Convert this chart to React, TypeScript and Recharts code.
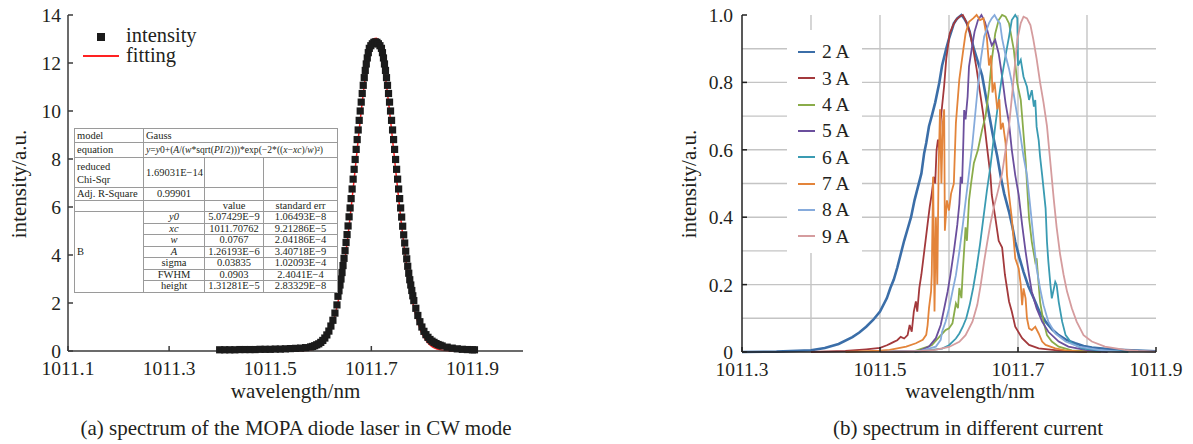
import React from 'react';
import { ComposedChart, Line, Scatter, XAxis, YAxis, ZAxis, ReferenceLine } from 'recharts';

const FONT = '"Liberation Serif", "Times New Roman", Times, serif';
const TEXT = '#231f20';
const AXIS = '#3a3a3a';

// ---------- Panel (a) ----------
const aXTicks = [1011.1, 1011.3, 1011.5, 1011.7, 1011.9];
const aYTicks = [0, 2, 4, 6, 8, 10, 12, 14];

const intensity: [number, number][] = [
  [1011.400, 0.05], [1011.410, 0.05], [1011.420, 0.05], [1011.430, 0.05], [1011.440, 0.06], [1011.450, 0.06],
  [1011.460, 0.06], [1011.470, 0.06], [1011.480, 0.07], [1011.490, 0.07], [1011.500, 0.07], [1011.510, 0.08],
  [1011.520, 0.08], [1011.530, 0.09], [1011.540, 0.10], [1011.550, 0.11], [1011.560, 0.12], [1011.570, 0.14],
  [1011.580, 0.17], [1011.584, 0.19], [1011.588, 0.22], [1011.592, 0.26], [1011.596, 0.30], [1011.600, 0.36],
  [1011.604, 0.44], [1011.608, 0.54], [1011.612, 0.67], [1011.616, 0.83], [1011.620, 1.04], [1011.624, 1.28],
  [1011.628, 1.58], [1011.632, 1.92], [1011.634, 2.28], [1011.636, 2.51], [1011.638, 2.75], [1011.640, 3.00],
  [1011.642, 3.27], [1011.644, 3.56], [1011.646, 3.86], [1011.648, 4.18], [1011.650, 4.52], [1011.652, 4.85],
  [1011.654, 5.21], [1011.656, 5.59], [1011.658, 5.96], [1011.660, 6.35], [1011.662, 6.75], [1011.664, 7.16],
  [1011.666, 7.57], [1011.668, 7.98], [1011.670, 8.40], [1011.672, 8.81], [1011.674, 9.21], [1011.676, 9.61],
  [1011.678, 10.00], [1011.680, 10.37], [1011.682, 10.73], [1011.684, 11.07], [1011.686, 11.39], [1011.688, 11.69],
  [1011.690, 11.96], [1011.692, 12.21], [1011.694, 12.43], [1011.696, 12.61], [1011.699, 12.72], [1011.702, 12.80],
  [1011.705, 12.86], [1011.708, 12.88], [1011.711, 12.86], [1011.714, 12.80], [1011.717, 12.72], [1011.720, 12.61],
  [1011.722, 12.43], [1011.724, 12.21], [1011.726, 11.96], [1011.728, 11.69], [1011.730, 11.39], [1011.732, 11.07],
  [1011.734, 10.73], [1011.736, 10.37], [1011.738, 10.00], [1011.740, 9.61], [1011.742, 9.21], [1011.744, 8.81],
  [1011.746, 8.40], [1011.748, 7.98], [1011.750, 7.57], [1011.752, 7.16], [1011.754, 6.75], [1011.756, 6.35],
  [1011.758, 5.96], [1011.760, 5.58], [1011.762, 5.20], [1011.764, 4.84], [1011.766, 4.50], [1011.768, 4.16],
  [1011.770, 3.84], [1011.772, 3.53], [1011.774, 3.24], [1011.776, 2.97], [1011.778, 2.75], [1011.780, 2.52],
  [1011.782, 2.30], [1011.784, 2.10], [1011.788, 1.78], [1011.792, 1.48], [1011.796, 1.22], [1011.800, 1.00],
  [1011.804, 0.82], [1011.808, 0.68], [1011.812, 0.57], [1011.816, 0.48], [1011.820, 0.41], [1011.824, 0.36],
  [1011.828, 0.31], [1011.832, 0.27], [1011.836, 0.24], [1011.840, 0.21], [1011.850, 0.16], [1011.860, 0.12],
  [1011.870, 0.09], [1011.880, 0.07], [1011.890, 0.06], [1011.900, 0.05], [1011.904, 0.05],
];

const fitting: [number, number][] = [
  [1011.400, 0], [1011.500, 0], [1011.550, 0.002], [1011.570, 0.02], [1011.580, 0.05], [1011.590, 0.11],
  [1011.600, 0.25], [1011.610, 0.50], [1011.620, 0.94], [1011.625, 1.25], [1011.630, 1.65], [1011.635, 2.13],
  [1011.640, 2.71], [1011.645, 3.39], [1011.650, 4.16], [1011.655, 5.02], [1011.660, 5.96], [1011.665, 6.96],
  [1011.670, 7.98], [1011.675, 9.01], [1011.680, 10.00], [1011.685, 10.90], [1011.690, 11.69], [1011.695, 12.32],
  [1011.700, 12.77], [1011.705, 13.01], [1011.710, 13.03], [1011.715, 12.83], [1011.720, 12.43], [1011.725, 11.83],
  [1011.730, 11.07], [1011.735, 10.19], [1011.740, 9.21], [1011.745, 8.19], [1011.750, 7.16], [1011.755, 6.16],
  [1011.760, 5.20], [1011.765, 4.32], [1011.770, 3.53], [1011.775, 2.84], [1011.780, 2.24], [1011.785, 1.74],
  [1011.790, 1.33], [1011.795, 1.00], [1011.800, 0.73], [1011.810, 0.38], [1011.820, 0.18], [1011.830, 0.08],
  [1011.840, 0.035], [1011.860, 0.005], [1011.900, 0],
];

// ---------- Panel (b) ----------
const bXTicks = [1011.3, 1011.5, 1011.7, 1011.9];
const bYTicks = [0, 0.2, 0.4, 0.6, 0.8, 1.0];
const bGridX = [1011.4, 1011.5, 1011.6, 1011.7, 1011.8];
const bGridY = [0.1, 0.2, 0.3, 0.4, 0.5, 0.6, 0.7, 0.8, 0.9];

const currents = ['2 A', '3 A', '4 A', '5 A', '6 A', '7 A', '8 A', '9 A'];
const currentColors = ['#3b6ea8', '#a3393c', '#8aac4a', '#6b4f9d', '#3a9bb2', '#e3843a', '#86abdc', '#d59c9e'];
const currentWidths = [2.6, 1.8, 1.8, 1.8, 1.8, 1.8, 1.8, 1.8];

const spec2A: [number, number][] = [
  [1011.30, 0], [1011.35, 0.001], [1011.40, 0.005], [1011.42, 0.012], [1011.44, 0.024], [1011.46, 0.044],
  [1011.47, 0.058], [1011.48, 0.075], [1011.49, 0.095], [1011.50, 0.12], [1011.51, 0.16], [1011.515, 0.19],
  [1011.52, 0.215], [1011.525, 0.25], [1011.53, 0.29], [1011.535, 0.33], [1011.54, 0.365], [1011.545, 0.40],
  [1011.55, 0.45], [1011.555, 0.49], [1011.56, 0.53], [1011.564, 0.59], [1011.567, 0.62], [1011.571, 0.67],
  [1011.575, 0.70], [1011.58, 0.74], [1011.586, 0.80], [1011.59, 0.85], [1011.596, 0.90], [1011.60, 0.93],
  [1011.604, 0.955], [1011.607, 0.975], [1011.612, 0.99], [1011.618, 1.0], [1011.622, 0.99], [1011.626, 0.975],
  [1011.630, 0.95], [1011.636, 0.90], [1011.642, 0.86], [1011.648, 0.82], [1011.655, 0.74], [1011.663, 0.65],
  [1011.670, 0.58], [1011.675, 0.52], [1011.680, 0.47], [1011.687, 0.416], [1011.692, 0.37], [1011.696, 0.327],
  [1011.702, 0.28], [1011.708, 0.238], [1011.715, 0.195], [1011.723, 0.159], [1011.731, 0.12], [1011.740, 0.090],
  [1011.75, 0.066], [1011.759, 0.050], [1011.77, 0.036], [1011.783, 0.026], [1011.795, 0.018], [1011.807, 0.013],
  [1011.83, 0.009], [1011.855, 0.006], [1011.90, 0.002],
];
const spec3A: [number, number][] = [
  [1011.40, 0], [1011.45, 0.003], [1011.48, 0.008], [1011.50, 0.012], [1011.51, 0.02], [1011.515, 0.025],
  [1011.52, 0.03], [1011.525, 0.035], [1011.53, 0.045], [1011.535, 0.04], [1011.54, 0.05], [1011.543, 0.08],
  [1011.546, 0.06], [1011.549, 0.12], [1011.552, 0.15], [1011.554, 0.12], [1011.557, 0.19], [1011.56, 0.23],
  [1011.563, 0.28], [1011.566, 0.33], [1011.569, 0.38], [1011.572, 0.43], [1011.575, 0.47], [1011.578, 0.52],
  [1011.580, 0.50], [1011.582, 0.60], [1011.584, 0.63], [1011.586, 0.60], [1011.588, 0.69], [1011.593, 0.79],
  [1011.596, 0.87], [1011.601, 0.945], [1011.606, 0.97], [1011.610, 0.985], [1011.615, 0.995], [1011.62, 1.0],
  [1011.625, 0.98], [1011.63, 0.95], [1011.635, 0.90], [1011.64, 0.84], [1011.645, 0.77], [1011.65, 0.70],
  [1011.655, 0.61], [1011.66, 0.525], [1011.662, 0.466], [1011.667, 0.40], [1011.672, 0.33], [1011.677, 0.31],
  [1011.681, 0.23], [1011.687, 0.15], [1011.691, 0.12], [1011.696, 0.075], [1011.706, 0.041], [1011.716, 0.021],
  [1011.730, 0.011], [1011.76, 0.004], [1011.80, 0],
];
const spec4A: [number, number][] = [
  [1011.50, 0], [1011.55, 0.003], [1011.575, 0.02], [1011.586, 0.045], [1011.595, 0.065], [1011.600, 0.07],
  [1011.605, 0.085], [1011.610, 0.144], [1011.613, 0.13], [1011.615, 0.19], [1011.618, 0.16], [1011.620, 0.24],
  [1011.624, 0.37], [1011.626, 0.33], [1011.629, 0.45], [1011.632, 0.50], [1011.636, 0.56], [1011.642, 0.60],
  [1011.648, 0.66], [1011.653, 0.70], [1011.658, 0.78], [1011.662, 0.866], [1011.667, 0.945], [1011.672, 0.985],
  [1011.677, 1.0], [1011.682, 0.995], [1011.687, 0.975], [1011.694, 0.896], [1011.699, 0.797], [1011.704, 0.748],
  [1011.706, 0.698], [1011.711, 0.57], [1011.716, 0.397], [1011.720, 0.327], [1011.725, 0.268], [1011.727, 0.278],
  [1011.730, 0.199], [1011.732, 0.149], [1011.737, 0.090], [1011.742, 0.050], [1011.749, 0.031], [1011.759, 0.016],
  [1011.778, 0.005], [1011.82, 0],
];
const spec5A: [number, number][] = [
  [1011.50, 0], [1011.557, 0.003], [1011.571, 0.016], [1011.581, 0.041], [1011.588, 0.080], [1011.593, 0.129],
  [1011.598, 0.179], [1011.602, 0.228], [1011.607, 0.298], [1011.612, 0.377], [1011.615, 0.44], [1011.617, 0.52],
  [1011.619, 0.50], [1011.621, 0.64], [1011.622, 0.718], [1011.624, 0.69], [1011.627, 0.758], [1011.629, 0.847],
  [1011.633, 0.90], [1011.637, 0.95], [1011.642, 0.985], [1011.647, 1.0], [1011.652, 0.98], [1011.658, 0.936],
  [1011.662, 0.91], [1011.667, 0.926], [1011.672, 0.886], [1011.677, 0.817], [1011.682, 0.738], [1011.687, 0.679],
  [1011.691, 0.600], [1011.696, 0.525], [1011.701, 0.466], [1011.706, 0.377], [1011.711, 0.298], [1011.716, 0.228],
  [1011.720, 0.179], [1011.727, 0.129], [1011.735, 0.090], [1011.744, 0.060], [1011.759, 0.031], [1011.773, 0.016],
  [1011.797, 0.006], [1011.83, 0],
];
const spec6A: [number, number][] = [
  [1011.55, 0], [1011.59, 0.01], [1011.60, 0.02], [1011.61, 0.04], [1011.615, 0.055], [1011.62, 0.075],
  [1011.625, 0.10], [1011.63, 0.14], [1011.635, 0.19], [1011.64, 0.25], [1011.645, 0.32], [1011.65, 0.40],
  [1011.655, 0.48], [1011.66, 0.55], [1011.667, 0.67], [1011.672, 0.75], [1011.677, 0.82], [1011.682, 0.88],
  [1011.687, 0.936], [1011.691, 0.985], [1011.696, 1.0], [1011.699, 0.99], [1011.700, 0.85], [1011.704, 0.867],
  [1011.708, 0.817], [1011.713, 0.787], [1011.716, 0.748], [1011.720, 0.777], [1011.723, 0.728], [1011.725, 0.748],
  [1011.727, 0.668], [1011.730, 0.628], [1011.732, 0.58], [1011.735, 0.525], [1011.740, 0.426], [1011.742, 0.327],
  [1011.744, 0.268], [1011.747, 0.199], [1011.749, 0.159], [1011.754, 0.208], [1011.756, 0.199], [1011.759, 0.149],
  [1011.764, 0.090], [1011.769, 0.050], [1011.778, 0.026], [1011.793, 0.011], [1011.817, 0.005], [1011.86, 0],
];
const spec7A: [number, number][] = [
  [1011.45, 0], [1011.50, 0.004], [1011.514, 0.006], [1011.538, 0.016], [1011.552, 0.026], [1011.562, 0.036],
  [1011.567, 0.051], [1011.569, 0.08], [1011.571, 0.13], [1011.574, 0.18], [1011.575, 0.23], [1011.577, 0.52],
  [1011.579, 0.12], [1011.581, 0.40], [1011.583, 0.20], [1011.585, 0.55], [1011.587, 0.72], [1011.589, 0.50],
  [1011.591, 0.68], [1011.593, 0.72], [1011.594, 0.36], [1011.597, 0.45], [1011.600, 0.42], [1011.603, 0.47],
  [1011.607, 0.50], [1011.610, 0.68], [1011.615, 0.81], [1011.620, 0.886], [1011.624, 0.945], [1011.629, 0.98],
  [1011.635, 0.99], [1011.64, 1.0], [1011.645, 0.985], [1011.65, 0.99], [1011.655, 0.93], [1011.658, 0.85],
  [1011.661, 0.88], [1011.663, 0.77], [1011.666, 0.80], [1011.670, 0.72], [1011.673, 0.75], [1011.675, 0.66],
  [1011.678, 0.68], [1011.682, 0.62], [1011.684, 0.525], [1011.687, 0.466], [1011.691, 0.397], [1011.694, 0.327],
  [1011.696, 0.278], [1011.701, 0.248], [1011.704, 0.199], [1011.706, 0.139], [1011.708, 0.189], [1011.711, 0.159],
  [1011.713, 0.10], [1011.716, 0.07], [1011.720, 0.065], [1011.725, 0.075], [1011.730, 0.055], [1011.735, 0.031],
  [1011.740, 0.021], [1011.754, 0.011], [1011.769, 0.005], [1011.80, 0],
];
const spec8A: [number, number][] = [
  [1011.50, 0], [1011.56, 0.004], [1011.581, 0.016], [1011.588, 0.036], [1011.590, 0.060], [1011.595, 0.090],
  [1011.600, 0.129], [1011.605, 0.179], [1011.610, 0.228], [1011.615, 0.298], [1011.620, 0.377], [1011.624, 0.446],
  [1011.627, 0.496], [1011.634, 0.62], [1011.641, 0.77], [1011.646, 0.866], [1011.651, 0.936], [1011.658, 0.976],
  [1011.662, 0.99], [1011.666, 1.0], [1011.670, 0.985], [1011.674, 0.975], [1011.677, 0.93], [1011.682, 0.88],
  [1011.687, 0.84], [1011.691, 0.80], [1011.695, 0.75], [1011.699, 0.70], [1011.703, 0.65], [1011.708, 0.58],
  [1011.713, 0.525], [1011.718, 0.426], [1011.723, 0.327], [1011.727, 0.248], [1011.732, 0.189], [1011.737, 0.139],
  [1011.744, 0.090], [1011.754, 0.055], [1011.769, 0.031], [1011.788, 0.016], [1011.817, 0.006], [1011.85, 0],
];
const spec9A: [number, number][] = [
  [1011.50, 0], [1011.56, 0.003], [1011.58, 0.006], [1011.60, 0.015], [1011.615, 0.03], [1011.624, 0.05],
  [1011.634, 0.09], [1011.641, 0.14], [1011.646, 0.20], [1011.651, 0.27], [1011.655, 0.32], [1011.66, 0.38],
  [1011.665, 0.43], [1011.67, 0.47], [1011.677, 0.53], [1011.682, 0.60], [1011.687, 0.67], [1011.694, 0.817],
  [1011.699, 0.926], [1011.704, 0.976], [1011.708, 0.995], [1011.713, 0.99], [1011.718, 0.97], [1011.722, 0.93],
  [1011.727, 0.87], [1011.732, 0.80], [1011.737, 0.74], [1011.742, 0.67], [1011.747, 0.56], [1011.752, 0.45],
  [1011.756, 0.37], [1011.761, 0.29], [1011.766, 0.23], [1011.771, 0.18], [1011.778, 0.13], [1011.785, 0.09],
  [1011.795, 0.05], [1011.807, 0.031], [1011.826, 0.016], [1011.855, 0.006], [1011.874, 0.003], [1011.90, 0.001],
];
const spectra = [spec2A, spec3A, spec4A, spec5A, spec6A, spec7A, spec8A, spec9A];

const toXY = (pts: [number, number][]) => pts.map(([x, y]) => ({ x, y }));

const tickStyle = { fontSize: 19.5, fontFamily: FONT, fill: TEXT };

function PanelA() {
  return (
    <ComposedChart width={545} height={400} margin={{ top: 15, right: 22, bottom: 0, left: 0 }}>
      <XAxis
        type="number" dataKey="x" domain={[1011.1, 1012.0]} ticks={aXTicks} interval={0} height={49}
        tickSize={-5} tickMargin={15} tick={tickStyle} tickFormatter={(v: number) => v.toFixed(1)}
        axisLine={{ stroke: AXIS, strokeWidth: 1.5 }} tickLine={{ stroke: AXIS, strokeWidth: 1.5 }}
      />
      <XAxis
        xAxisId="top" orientation="top" type="number" domain={[1011.1, 1012.0]} height={0}
        tick={false} tickLine={false} axisLine={{ stroke: AXIS, strokeWidth: 1.5 }}
      />
      <YAxis
        type="number" dataKey="y" domain={[0, 14]} ticks={aYTicks} interval={0} width={68}
        tickSize={-5} tickMargin={12} tick={tickStyle}
        axisLine={{ stroke: AXIS, strokeWidth: 1.5 }} tickLine={{ stroke: AXIS, strokeWidth: 1.5 }}
      />
      <YAxis
        yAxisId="right" orientation="right" type="number" domain={[0, 14]} width={0}
        tick={false} tickLine={false} axisLine={{ stroke: AXIS, strokeWidth: 1.5 }}
      />
      <ZAxis range={[52, 52]} />
      <Scatter data={toXY(intensity)} shape="square" fill="#1b1b1b" isAnimationActive={false} />
      <Line
        data={toXY(fitting)} dataKey="y" type="monotone" stroke="#ff2222" strokeWidth={1.5}
        dot={false} activeDot={false} isAnimationActive={false}
      />
    </ComposedChart>
  );
}

function PanelB() {
  return (
    <ComposedChart width={593} height={400} margin={{ top: 15, right: 37, bottom: 0, left: 0 }}>
      <XAxis
        type="number" dataKey="x" domain={[1011.3, 1011.9]} ticks={bXTicks} interval={0} height={48}
        tickSize={-5} tickMargin={15} tick={tickStyle} tickFormatter={(v: number) => v.toFixed(1)}
        axisLine={{ stroke: '#222', strokeWidth: 1.5 }} tickLine={{ stroke: '#222', strokeWidth: 1.5 }}
      />
      <XAxis
        xAxisId="top" orientation="top" type="number" domain={[1011.3, 1011.9]} height={0}
        tick={false} tickLine={false} axisLine={{ stroke: '#333', strokeWidth: 1.5 }}
      />
      <YAxis
        type="number" dataKey="y" domain={[0, 1]} ticks={bYTicks} interval={0} width={142}
        tickSize={-5} tickMargin={14} tick={tickStyle}
        tickFormatter={(v: number) => (v === 0 ? '0' : v.toFixed(1))}
        axisLine={{ stroke: '#222', strokeWidth: 1.5 }} tickLine={{ stroke: '#222', strokeWidth: 1.5 }}
      />
      <YAxis
        yAxisId="right" orientation="right" type="number" domain={[0, 1]} width={0}
        tick={false} tickLine={false} axisLine={{ stroke: '#333', strokeWidth: 1.5 }}
      />
      {bGridX.map((g) => (
        <ReferenceLine key={'gx' + g} x={g} stroke="#c4c4c4" strokeWidth={1.4} />
      ))}
      {bGridY.map((g) => (
        <ReferenceLine key={'gy' + g} y={g} stroke="#c4c4c4" strokeWidth={1.4} />
      ))}
      {spectra.map((s, i) => (
        <Line
          key={currents[i]} name={currents[i]} data={toXY(s)} dataKey="y" type="linear"
          stroke={currentColors[i]} strokeWidth={currentWidths[i]} dot={false} activeDot={false}
          isAnimationActive={false}
        />
      ))}
    </ComposedChart>
  );
}

const abs = (s: React.CSSProperties): React.CSSProperties => ({ position: 'absolute', ...s });

const td: React.CSSProperties = { border: '1px solid #9a9a9a', padding: '0 2px', whiteSpace: 'nowrap', overflow: 'visible' };
const tdc: React.CSSProperties = { ...td, textAlign: 'center' };

const MINUS = '\u2212';
const paramRows: [React.ReactNode, string, string][] = [
  [<i>y0</i>, '5.07429E\u22129', '1.06493E\u22128'],
  [<i>xc</i>, '1011.70762', '9.21286E\u22125'],
  [<i>w</i>, '0.0767', '2.04186E\u22124'],
  [<i>A</i>, '1.26193E\u22126', '3.40718E\u22129'],
  ['sigma', '0.03835', '1.02093E\u22124'],
  ['FWHM', '0.0903', '2.4041E\u22124'],
  ['height', '1.31281E\u22125', '2.83329E\u22128'],
];
const chiSqr = '1.69031E\u221214';
const adjR2 = '0.99901';

function FitTable() {
  return (
    <table
      style={abs({
        left: 74, top: 128, width: 263, height: 163, borderCollapse: 'collapse', tableLayout: 'fixed',
        border: '1.5px solid #3a3a3a', background: '#fff', fontFamily: FONT, fontSize: 10.5, color: TEXT,
        lineHeight: '10px',
      })}
    >
      <colgroup>
        <col style={{ width: 69 }} />
        <col style={{ width: 61 }} />
        <col style={{ width: 59 }} />
        <col style={{ width: 74 }} />
      </colgroup>
      <tbody>
        <tr style={{ height: 14 }}>
          <td style={td}>model</td>
          <td style={td} colSpan={3}>Gauss</td>
        </tr>
        <tr style={{ height: 15 }}>
          <td style={td}>equation</td>
          <td style={{ ...td, fontSize: 9.6 }} colSpan={3}>
            <i>y</i>=<i>y</i>0+(<i>A</i>/(<i>w</i>*sqrt(<i>PI</i>/2)))*exp({MINUS}2*((<i>x</i>{MINUS}<i>xc</i>)/<i>w</i>)²)
          </td>
        </tr>
        <tr style={{ height: 30 }}>
          <td style={{ ...td, lineHeight: '13px' }}>reduced<br />Chi-Sqr</td>
          <td style={td}>{chiSqr}</td>
          <td style={td} />
          <td style={td} />
        </tr>
        <tr style={{ height: 13 }}>
          <td style={td}>Adj. R-Square</td>
          <td style={tdc}>{adjR2}</td>
          <td style={td} />
          <td style={td} />
        </tr>
        <tr style={{ height: 11 }}>
          <td style={td} />
          <td style={td} />
          <td style={tdc}>value</td>
          <td style={tdc}>standard err</td>
        </tr>
        {paramRows.map((r, i) => (
          <tr key={i} style={{ height: 11.5 }}>
            {i === 0 && <td style={td} rowSpan={7}>B</td>}
            <td style={tdc}>{r[0]}</td>
            <td style={tdc}>{r[1]}</td>
            <td style={tdc}>{r[2]}</td>
          </tr>
        ))}
      </tbody>
    </table>
  );
}

// text block whose line box is tight; `baseline` is the wanted baseline y
const textAt = (left: number, baseline: number, size: number, content: string, extra: React.CSSProperties = {}) => {
  const lh = Math.round(size * 0.85);
  const top = baseline - (lh - size * 1.107) / 2 - size * 0.891;
  return (
    <div
      style={abs({
        left, top, height: lh, fontSize: size, fontFamily: FONT, color: TEXT, lineHeight: `${lh}px`,
        whiteSpace: 'nowrap', ...extra,
      })}
    >
      {content}
    </div>
  );
};

const centeredAt = (cx: number, baseline: number, size: number, content: string) =>
  textAt(cx - 300, baseline, size, content, { width: 600, textAlign: 'center' });

const rotatedText = (cx: number, cy: number, size: number, content: string) => (
  <div
    style={abs({
      left: cx - 100, top: cy - 10, width: 200, height: 20, lineHeight: '20px', textAlign: 'center',
      fontSize: size, fontFamily: FONT, color: TEXT, transform: 'rotate(-90deg)', whiteSpace: 'nowrap',
    })}
  >
    {content}
  </div>
);

export default function App() {
  return (
    <div style={abs({ left: 0, top: 0, width: 1193, height: 444, background: '#fff', overflow: 'hidden' })}>
      <div style={abs({ left: 0, top: 0 })}>
        <PanelA />
      </div>
      <div style={abs({ left: 600, top: 0 })}>
        <PanelB />
      </div>

      {/* Panel (a) legend */}
      <div style={abs({ left: 97, top: 33, width: 8, height: 8, background: '#1b1b1b' })} />
      <div style={abs({ left: 83, top: 55.3, width: 36, height: 1.5, background: '#ff2222' })} />
      {textAt(126, 42.5, 20.5, 'intensity')}
      {textAt(126, 62, 20.5, 'fitting')}

      <FitTable />

      {/* Panel (b) legend */}
      <div style={abs({ left: 787, top: 30, width: 75, height: 223, background: '#fff' })}>
        {currents.map((c, i) => (
          <React.Fragment key={c}>
            <div style={abs({ left: 11, top: 22 + i * 26.3 - 1, width: 17, height: 2, background: currentColors[i] })} />
            {textAt(35, 22 + i * 26.3 + 6.5, 19.5, c)}
          </React.Fragment>
        ))}
      </div>

      {/* Axis titles */}
      {rotatedText(19, 184, 21, 'intensity/a.u.')}
      {rotatedText(689, 184, 21, 'intensity/a.u.')}
      {centeredAt(295.5, 398, 21, 'wavelength/nm')}
      {centeredAt(970, 398, 21, 'wavelength/nm')}

      {/* Captions */}
      {centeredAt(296, 435, 21, '(a) spectrum of the MOPA diode laser in CW mode')}
      {centeredAt(968, 435, 21, '(b) spectrum in different current')}
    </div>
  );
}
